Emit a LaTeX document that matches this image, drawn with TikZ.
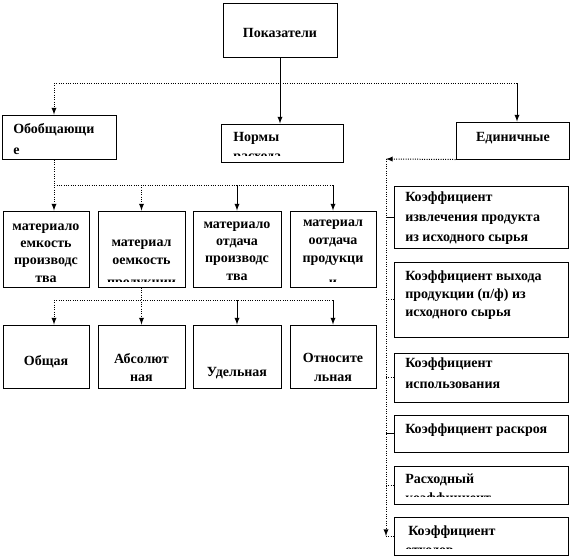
\documentclass[tikz,border=0pt]{standalone}
\usepackage{fontspec}
\setmainfont{Liberation Serif}
\tikzset{
  box/.style={draw, line width=0.75pt, rectangle, inner sep=0pt},
  bw/.style={minimum width=#1*0.75pt},
  bh/.style={minimum height=#1*0.75pt},
  txt/.style={font=\bfseries\fontsize{10.5}{15}\selectfont, inner sep=0pt},
  solidline/.style={line width=0.75pt},
  con/.style={line width=0.75pt, densely dotted},
}
\begin{document}
\begin{tikzpicture}[x=0.75pt, y=-0.75pt]
            \useasboundingbox (0,0) rectangle (572,558);

            % boxes
            \node[box, bw=114, bh=54] (P) at (280,30) {};
            \node[box, bw=114, bh=44] (O) at (59,137) {};
            \node[box, bw=122, bh=38] (N) at (282,143) {};
            \node[box, bw=113, bh=37] (E) at (512.5,140.5) {};

            \node[box, bw=86, bh=76] (M1) at (46,249) {};
            \node[box, bw=87, bh=76] (M2) at (141.5,249) {};
            \node[box, bw=88, bh=76] (M3) at (237,249) {};
            \node[box, bw=86, bh=76] (M4) at (333,249) {};

            \node[box, bw=86, bh=63] (B1) at (46,356.5) {};
            \node[box, bw=87, bh=63] (B2) at (141.5,356.5) {};
            \node[box, bw=88, bh=63] (B3) at (237,356.5) {};
            \node[box, bw=86, bh=63] (B4) at (333,356.5) {};

            \node[box, bw=174, bh=62] (K1) at (481,217) {};
            \node[box, bw=174, bh=75] (K2) at (481,299.5) {};
            \node[box, bw=174, bh=49] (K3) at (481,377.5) {};
            \node[box, bw=174, bh=37] (K4) at (481,433.5) {};
            \node[box, bw=174, bh=38] (K5) at (481,485) {};
            \node[box, bw=174, bh=38] (K6) at (481,536) {};

            % texts
            \node[txt] (tP) at (280,33) {Показатели};
            \node[txt, anchor=west, align=left, font=\bfseries\fontsize{10.5}{16}\selectfont] (tO) at (13,139) {Обобщающи\\е};
            \node[txt, anchor=west] (tN) at (233,138) {Нормы};
            \node[txt] (tE) at (513,138) {Единичные};

            \node[txt, align=center, font=\bfseries\fontsize{10.5}{13}\selectfont] (tM1) at (46,253) {материало\\емкость\\производс\\тва};
            \node[txt, align=center, font=\bfseries\fontsize{10.5}{13.5}\selectfont] (tM2) at (141.5,252.5) {материал\\оемкость};
            \node[txt, align=center, font=\bfseries\fontsize{10.5}{13}\selectfont] (tM3) at (237,251) {материало\\отдача\\производс\\тва};
            \node[txt, align=center, font=\bfseries\fontsize{10.5}{13.5}\selectfont] (tM4) at (333,243) {материал\\оотдача\\продукци};

            \node[txt] (tB1) at (46,362) {Общая};
            \node[txt, align=center, font=\bfseries\fontsize{10.5}{14}\selectfont] (tB2) at (141.5,367.5) {Абсолют\\ная};
            \node[txt] (tB3) at (237,373) {Удельная};
            \node[txt, align=center, font=\bfseries\fontsize{10.5}{14}\selectfont] (tB4) at (333,367.5) {Относите\\льная};

            \node[txt, anchor=west, align=left] (tK1) at (405,218) {Коэффициент\\извлечения продукта\\из исходного сырья};
            \node[txt, anchor=west, align=left, font=\bfseries\fontsize{10.5}{13.5}\selectfont] (tK2) at (405,295) {Коэффициент выхода\\продукции (п/ф) из\\исходного сырья};
            \node[txt, anchor=west, align=left, font=\bfseries\fontsize{10.5}{16}\selectfont] (tK3) at (405,373) {Коэффициент\\использования};
            \node[txt, anchor=west] (tK4) at (405,430) {Коэффициент раскроя};
            \node[txt, anchor=west] (tK5) at (405,480) {Расходный};
            \node[txt, anchor=west] (tK6) at (408,532) {Коэффициент};

            % cut off lines
            \begin{scope}
                \clip (222,125) rectangle (342,155);
                \node[txt, anchor=base west] (tN2) at (233,160.5) {расхода};
            \end{scope}
            \begin{scope}
                \clip (99,212) rectangle (184,281);
                \node[txt, anchor=base] (tM2b) at (141.5,286.5) {продукции};
            \end{scope}
            \begin{scope}
                \clip (291,212) rectangle (375,281);
                \node[txt, anchor=base] (tM4b) at (333,286.5) {и};
            \end{scope}
            \begin{scope}
                \clip (395,467) rectangle (567,496.5);
                \node[txt, anchor=base west] (tK5b) at (405,502.5) {коэффициент};
            \end{scope}
            \begin{scope}
                \clip (395,518) rectangle (567,548.5);
                \node[txt, anchor=base west] (tK6b) at (405,554.5) {отходов};
            \end{scope}

            % connectors
            \coordinate (h1) at (54,83);
            \coordinate (h2) at (517,83);
            \coordinate (r1) at (54,185);
            \coordinate (r2) at (333,185);
            \coordinate (s1) at (54,300);
            \coordinate (s2) at (333,300);
            \coordinate (k0) at (386,159);
            \coordinate (k1) at (386,536);

            \draw[solidline,-latex] (P.south) -- (P.south |- N.north);
            \draw[con] (h1) -- (h2);
            \draw[con,-latex] (h1) -- (h1 |- O.north);
            \draw[solidline,-latex] (h2) -- (h2 |- E.north);

            \draw[con] (h1 |- O.south) -- (r1) -- (r2);
            \draw[con,-latex] (r1) -- (r1 |- M1.north);
            \draw[con,-latex] (M2.north |- r1) -- (M2.north);
            \draw[solidline,-latex] (M3.north |- r1) -- (M3.north);
            \draw[solidline,-latex] (r2) -- (M4.north);

            \draw[con] (s1) -- (s2);
            \draw[con,-latex] (M2.south) -- (B2.north);
            \draw[con,-latex] (s1) -- (s1 |- B1.north);
            \draw[solidline,-latex] (B3.north |- s1) -- (B3.north);
            \draw[solidline,-latex] (s2) -- (B4.north);

            \draw[con,-latex] (E.south west) -- (k0);
            \draw[con,-latex] (k0) -- (k1);
            \draw[solidline] (K1.west -| k0) -- (K1.west);
            \draw[con] (K2.west -| k0) -- (K2.west);
            \draw[con] (K3.west -| k0) -- (K3.west);
            \draw[solidline] (K4.west -| k0) -- (K4.west);
            \draw[con] (K5.west -| k0) -- (K5.west);
            \draw[con] (K6.west -| k0) -- (K6.west);
        \end{tikzpicture}
\end{document}
